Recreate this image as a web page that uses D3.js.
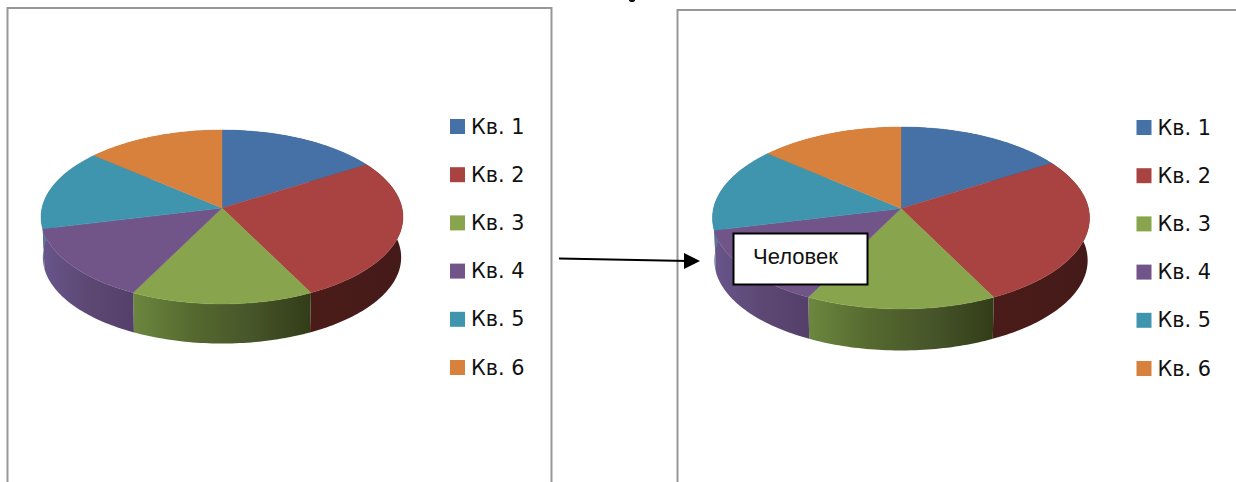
<!DOCTYPE html>
<html lang="ru">
<head>
<meta charset="utf-8">
<script src="https://cdn.jsdelivr.net/npm/d3@7"></script>
<style>
  html, body { margin: 0; padding: 0; background: #fff; overflow: hidden; }
  svg { display: block; }
</style>
</head>
<body>
<svg id="chart" width="1236" height="482"></svg>
<script>
// Quarterly shares shown by both pies
const categories = ["Кв. 1", "Кв. 2", "Кв. 3", "Кв. 4", "Кв. 5", "Кв. 6"];
const seriesValues = [16.1, 26.5, 14.8, 13.8, 15.1, 13.7];
const topColors = ["#4571a6", "#a84342", "#88a44c", "#715589", "#4095ae", "#d8813c"];
const calloutLabel = "Человек";

const svg = d3.select("#chart");
const defs = svg.append("defs");

const pieLayout = d3.pie().sort(null).value(d => d);
const arcs = pieLayout(seriesValues);

// Wall shading per slice: left-to-right colour stops
const wallStops = [
  ["#2f4a70", "#2f4a70"],
  ["#4a1c19", "#441a18"],
  ["#6c873f", "#55692f", "#47552a", "#323d17"],
  ["#68558a", "#5d4874", "#54406a"],
  ["#5f7299", "#5f7299"],
  ["#a5622c", "#a5622c"]
];

const panels = [
  { id: "a", cx: 222, cy: 208, rx: 180, front: 96, back: 78, depth: 40.5,
    frame: { x: 7.5, y: 8, w: 544 }, legendX: 450, legendY: 126.5, legendStep: 48.2 },
  { id: "b", cx: 901, cy: 208.5, rx: 187.5, front: 100.5, back: 81.5, depth: 42.5,
    frame: { x: 677.5, y: 10, w: 600 }, legendX: 1136.5, legendY: 127.5, legendStep: 48.2 }
];

// Tilted-disc projection: unit circle to screen, nearer edge drawn larger
function projector(p, shrink, drop) {
  const k = (p.front - p.back) / (p.front + p.back);
  const b = p.front * (1 - k);
  return angle => {
    const x = Math.sin(angle), y = -Math.cos(angle);
    const w = 1 - k * y;
    return [p.cx + shrink * p.rx * x / w, p.cy + drop + shrink * b * y / w];
  };
}

function arcSamples(a0, a1) {
  const n = Math.max(2, Math.ceil((a1 - a0) / 0.02));
  return d3.range(n + 1).map(i => a0 + (a1 - a0) * i / n);
}

const line = d3.line();

function drawPanel(p) {
  const g = svg.append("g");

  // Frame: open at the bottom, runs past the page edge
  g.append("path")
    .attr("d", `M${p.frame.x},490V${p.frame.y}H${p.frame.x + p.frame.w}V490`)
    .attr("fill", "none").attr("stroke", "#979797").attr("stroke-width", 2);

  const topAt = projector(p, 1, 0);
  const baseAt = projector(p, 0.99, p.depth);

  // Side walls, drawn first so the top faces cover the hidden part
  arcs.forEach((d, i) => {
    const samples = arcSamples(d.startAngle, d.endAngle);
    const upper = samples.map(topAt);
    const lower = samples.map(baseAt).reverse();
    const xs = upper.map(c => c[0]);
    const gid = `wall-${p.id}-${i}`;
    const grad = defs.append("linearGradient")
      .attr("id", gid).attr("gradientUnits", "userSpaceOnUse")
      .attr("x1", d3.min(xs)).attr("x2", d3.max(xs)).attr("y1", 0).attr("y2", 0);
    wallStops[i].forEach((c, j, all) => {
      grad.append("stop").attr("offset", j / (all.length - 1)).attr("stop-color", c);
    });
    g.append("path")
      .attr("d", line(upper.concat(lower)) + "Z")
      .attr("fill", `url(#${gid})`);
  });

  // Top faces
  const apex = [p.cx, p.cy];
  g.selectAll("path.face").data(arcs).join("path")
    .attr("class", "face")
    .attr("d", d => line([apex].concat(arcSamples(d.startAngle, d.endAngle).map(topAt))) + "Z")
    .attr("fill", (d, i) => topColors[i])
    .attr("stroke", (d, i) => topColors[i])
    .attr("stroke-width", 0.4);

  // Legend
  const legendRow = d3.scalePoint().domain(categories)
    .range([p.legendY, p.legendY + p.legendStep * (categories.length - 1)]);
  const rows = g.selectAll("g.row").data(categories).join("g")
    .attr("class", "row")
    .attr("transform", d => `translate(${p.legendX},${legendRow(d)})`);
  rows.append("rect")
    .attr("x", 0).attr("y", -7.5).attr("width", 15).attr("height", 15)
    .attr("fill", (d, i) => topColors[i]);
  rows.append("text")
    .attr("x", 21).attr("y", 7)
    .attr("font-family", "'DejaVu Sans', sans-serif")
    .attr("font-size", 20.8)
    .attr("fill", "#111")
    .text(d => d);
}

panels.forEach(drawPanel);

// Small dark speck on the page's top edge
svg.append("ellipse")
  .attr("cx", 632).attr("cy", 0).attr("rx", 3).attr("ry", 2)
  .attr("fill", "#111");

// Arrow linking the two panels
const arrowX1 = 559, arrowY1 = 258.5, arrowX2 = 700, arrowY2 = 261;
svg.append("line")
  .attr("x1", arrowX1).attr("y1", arrowY1).attr("x2", arrowX2 - 12).attr("y2", arrowY2)
  .attr("stroke", "#000").attr("stroke-width", 1.8);
svg.append("path")
  .attr("d", `M${arrowX2},${arrowY2}L${arrowX2 - 16},${arrowY2 - 8}V${arrowY2 + 8}Z`)
  .attr("fill", "#000");

// Callout box over the second pie
svg.append("rect")
  .attr("x", 733.5).attr("y", 233.5).attr("width", 134).attr("height", 51)
  .attr("fill", "#fff").attr("stroke", "#000").attr("stroke-width", 2);
svg.append("text")
  .attr("x", 753).attr("y", 263.5)
  .attr("font-family", "'Liberation Sans', Arial, sans-serif")
  .attr("font-size", 22).attr("fill", "#111")
  .text(calloutLabel);
</script>
</body>
</html>
